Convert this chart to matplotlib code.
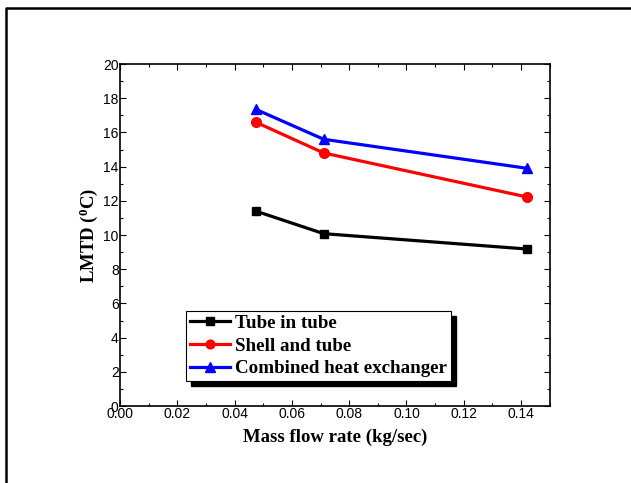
import matplotlib
matplotlib.use("Agg")
import matplotlib.pyplot as plt
from matplotlib.lines import Line2D
from matplotlib.patches import Rectangle
from matplotlib.ticker import MultipleLocator

# Mass flow rate (kg/sec)
mass_flow = [0.0474, 0.0711, 0.1422]

# LMTD (deg C) for each exchanger
lmtd_tube_in_tube = [11.4, 10.08, 9.18]
lmtd_shell_and_tube = [16.6, 14.8, 12.22]
lmtd_combined = [17.35, 15.6, 13.9]

labels = ["Tube in tube", "Shell and tube", "Combined heat exchanger"]

serif = "Liberation Serif"
sans = "Liberation Sans"

plt.rcParams['mathtext.fontset'] = 'custom'
plt.rcParams['mathtext.rm'] = serif + ':bold'

fig = plt.figure(figsize=(6.31, 4.83), dpi=100)
ax = fig.add_axes([0.1902, 0.1594, 0.681, 0.708])

ax.plot(mass_flow, lmtd_tube_in_tube, color="black", marker="s", markersize=6,
        linewidth=2.3, label=labels[0])
ax.plot(mass_flow, lmtd_shell_and_tube, color="red", marker="o", markersize=7,
        linewidth=2.3, label=labels[1])
ax.plot(mass_flow, lmtd_combined, color="blue", marker="^", markersize=7.5,
        linewidth=2.3, label=labels[2])

ax.set_xlim(0, 0.15)
ax.set_ylim(0, 20)
ax.xaxis.set_major_locator(MultipleLocator(0.02))
ax.xaxis.set_minor_locator(MultipleLocator(0.01))
ax.yaxis.set_major_locator(MultipleLocator(2))
ax.yaxis.set_minor_locator(MultipleLocator(1))
ax.set_xticks([0, 0.02, 0.04, 0.06, 0.08, 0.10, 0.12, 0.14])
ax.set_xticklabels(["0.00", "0.02", "0.04", "0.06", "0.08", "0.10", "0.12", "0.14"])

ax.tick_params(which="both", direction="in", top=True, right=True, width=0.8)
ax.tick_params(which="major", length=4, pad=1)
ax.tick_params(which="minor", length=2)
for tick in ax.get_xticklabels() + ax.get_yticklabels():
    tick.set_fontfamily(sans)
    tick.set_fontsize(10)
for spine in ax.spines.values():
    spine.set_linewidth(1.2)

ax.set_xlabel("Mass flow rate (kg/sec)", fontfamily=serif, fontweight="bold",
              fontsize=13.5, labelpad=5)
ax.set_ylabel(r"LMTD ($\mathregular{^0}$C)", fontfamily=serif, fontweight="bold",
              fontsize=13.5, labelpad=2)

leg = ax.legend(loc="lower left", bbox_to_anchor=(0.153, 0.073),
                prop={"family": serif, "weight": "bold", "size": 13.7},
                handlelength=2.15, handletextpad=0.25, labelspacing=0.28,
                borderpad=0.2, borderaxespad=0, fancybox=False,
                framealpha=1, edgecolor="black", markerscale=0.9)
leg.get_frame().set_linewidth(0.8)

# Solid black drop shadow behind the legend box
fig.canvas.draw()
bb = leg.get_window_extent().transformed(fig.transFigure.inverted())
dx, dy = 5 / 631, 5 / 483
ax.add_patch(Rectangle((bb.x0 + dx, bb.y0 - dy), bb.width, bb.height,
                       transform=fig.transFigure, color="black",
                       zorder=4.9, clip_on=False))

# Page border on the left and top
fig.add_artist(Line2D([6 / 631, 6 / 631, 1], [0, 1 - 8 / 483, 1 - 8 / 483],
                      transform=fig.transFigure, color="black", linewidth=1.8))

fig.savefig("out.png", dpi=100)
